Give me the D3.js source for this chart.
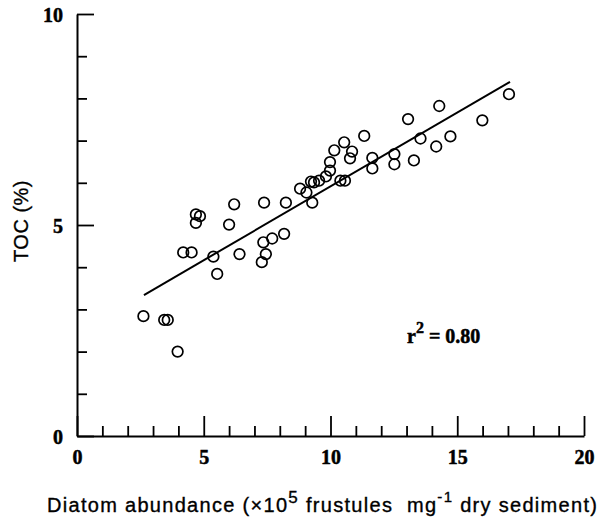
<!DOCTYPE html>
<html lang="en">
<head>
    <meta charset="UTF-8">
    <title>TOC vs diatom abundance</title>
    <script src="https://d3js.org/d3.v7.min.js"></script>
    <style>
        html, body {
            margin: 0;
            padding: 0;
            background: #fff;
        }
        svg {
            display: block;
        }
        .tick-label {
            font-family: "Liberation Serif", "Times New Roman", serif;
            font-weight: bold;
            font-size: 20px;
            fill: #000;
            stroke: #000;
            stroke-width: 0.5px;
        }
        .title {
            font-family: "Liberation Sans", Arial, sans-serif;
            fill: #000;
            stroke: #000;
            stroke-width: 0.35px;
            white-space: pre;
        }
    </style>
</head>
<body>
    <svg id="chart" width="604" height="517"></svg>

    <script>
        // diatom abundance (x10^5 frustules mg-1 dry sediment)
        const diatom = [2.62, 3.44, 3.58, 3.97, 4.19, 4.52, 4.69, 4.85, 4.69, 5.38,
                        5.53, 6.00, 6.20, 6.41, 7.29, 7.45, 7.35, 7.70, 7.38, 8.17,
                        8.24, 8.80, 9.05, 9.28, 9.23, 9.35, 9.55, 9.82, 9.98, 9.98,
                        10.15, 10.54, 10.85, 10.77, 10.39, 10.57, 11.33, 11.65, 11.65, 12.52,
                        12.52, 13.06, 13.29, 13.55, 14.17, 14.29, 14.73, 15.99, 17.04];
        // TOC (%)
        const toc = [2.84, 2.75, 2.75, 2.00, 4.35, 4.35, 5.25, 5.21, 5.05, 4.25,
                     3.84, 5.01, 5.49, 4.31, 4.12, 4.31, 4.59, 4.68, 5.53, 4.79,
                     5.53, 5.86, 5.77, 5.53, 6.03, 6.01, 6.05, 6.15, 6.29, 6.49,
                     6.77, 6.96, 6.74, 6.58, 6.05, 6.05, 7.11, 6.59, 6.34, 6.68,
                     6.44, 7.51, 6.53, 7.05, 6.86, 7.82, 7.10, 7.48, 8.10];
        // regression line end points
        const fitX = [2.64, 17.08];
        const fitY = [3.34, 8.39];

        const xTickLabels = [0, 5, 10, 15, 20];
        const yTickLabels = [0, 5, 10];

        const svg = d3.select("#chart");

        const x = d3.scaleLinear().domain([0, 20]).range([77, 584]);
        const y = d3.scaleLinear().domain([0, 10]).range([436, 14]);

        // x axis, ticks pointing inward
        const gx = svg.append("g")
            .attr("transform", `translate(0,${y(0)})`)
            .call(d3.axisBottom(x)
                .tickValues(d3.range(0, 21))
                .tickSizeOuter(0)
                .tickFormat(d => xTickLabels.includes(d) ? d : ""));
        gx.attr("font-family", null).attr("font-size", null);
        gx.select(".domain").attr("stroke-width", 2);
        gx.selectAll(".tick line")
            .attr("stroke-width", 1.8)
            .attr("y2", d => d % 5 === 0 ? -20 : -10);
        gx.selectAll(".tick text")
            .attr("class", "tick-label")
            .attr("y", 28)
            .attr("dy", null);

        // y axis, ticks pointing inward
        const gy = svg.append("g")
            .attr("transform", `translate(${x(0)},0)`)
            .call(d3.axisLeft(y)
                .tickValues(d3.range(0, 11))
                .tickSizeOuter(0)
                .tickFormat(d => yTickLabels.includes(d) ? d : ""));
        gy.attr("font-family", null).attr("font-size", null);
        gy.select(".domain").attr("stroke-width", 2);
        gy.selectAll(".tick line")
            .attr("stroke-width", 1.8)
            .attr("x2", d => d % 5 === 0 ? 17 : 10);
        gy.selectAll(".tick text")
            .attr("class", "tick-label")
            .attr("x", -14)
            .attr("dy", "0.35em");

        // regression line
        svg.append("line")
            .attr("x1", x(fitX[0])).attr("y1", y(fitY[0]))
            .attr("x2", x(fitX[1])).attr("y2", y(fitY[1]))
            .attr("stroke", "#000")
            .attr("stroke-width", 2);

        // data points
        svg.append("g")
            .selectAll("circle")
            .data(diatom.map((d, i) => [d, toc[i]]))
            .join("circle")
            .attr("cx", d => x(d[0]))
            .attr("cy", d => y(d[1]))
            .attr("r", 5.3)
            .attr("fill", "none")
            .attr("stroke", "#000")
            .attr("stroke-width", 1.7);

        // r squared annotation
        const r2 = svg.append("text")
            .attr("class", "tick-label")
            .attr("x", 407)
            .attr("y", 343);
        r2.append("tspan").text("r");
        r2.append("tspan").attr("dy", -10).attr("font-size", 16).text("2");
        r2.append("tspan").attr("dy", 10).text(" = 0.80");

        // axis titles
        const xt = svg.append("text")
            .attr("class", "title")
            .attr("x", 47)
            .attr("y", 512)
            .attr("font-size", 20)
            .attr("letter-spacing", 1.3);
        xt.append("tspan").text("Diatom abundance (\u00d710");
        xt.append("tspan").attr("dy", -9).attr("font-size", 17).text("5");
        xt.append("tspan").attr("dy", 9).text(" frustules  mg");
        xt.append("tspan").attr("dy", -10).attr("font-size", 15).text("-1");
        xt.append("tspan").attr("dy", 10).text(" dry sediment)");

        svg.append("text")
            .attr("class", "title")
            .attr("transform", "translate(28,221) rotate(-90)")
            .attr("text-anchor", "middle")
            .attr("font-size", 20)
            .attr("letter-spacing", 0.5)
            .text("TOC (%)");
    </script>
</body>
</html>
